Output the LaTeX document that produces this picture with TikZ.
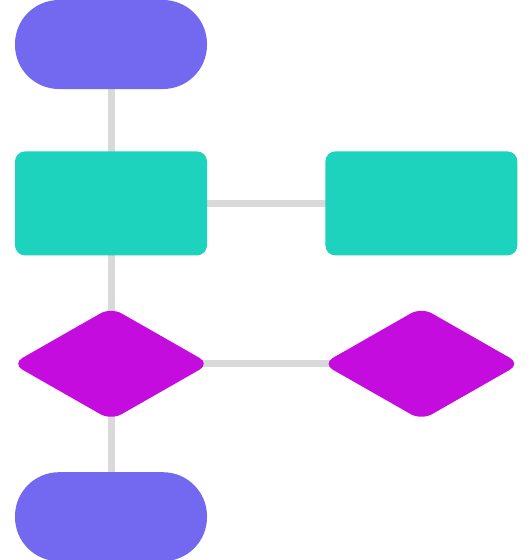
\documentclass[tikz,border=0pt]{standalone}
\usepackage{tikz}
\usetikzlibrary{positioning,shapes.geometric,backgrounds}
\definecolor{lila}{RGB}{115, 105, 240}
\definecolor{turquesa}{RGB}{29, 211, 189}
\definecolor{magenta}{RGB}{197, 12, 222}
\definecolor{gris85}{RGB}{217, 217, 217}

\begin{document}
\begin{tikzpicture}[
    node distance=62pt and 118pt,
    pill/.style={rectangle, fill=lila, rounded corners=44pt,
      minimum width=192pt, minimum height=89pt, inner sep=0pt},
    process/.style={rectangle, fill=turquesa, rounded corners=10pt,
      minimum width=192pt, minimum height=104pt, inner sep=0pt},
    decision/.style={diamond, fill=magenta, rounded corners=12pt,
      minimum width=198pt, minimum height=113pt, inner sep=0pt},
    link/.style={draw=gris85, line width=7pt}
  ]
    \useasboundingbox (0pt,0pt) rectangle (531pt,-560pt);

    \node[pill] (inicio) at (111pt,-44.5pt) {};
    \node[process, below=of inicio] (p1) {};
    \node[process, right=of p1] (p2) {};
    \node[decision, below=51.5pt of p1] (d1) {};
    \node[decision, right=112pt of d1] (d2) {};
    \node[pill, below=51.5pt of d1] (fin) {};

    \begin{scope}[on background layer]
      \draw[link] (inicio.center) -- (p1.center);
      \draw[link] (p1.center) -- (p2.center);
      \draw[link] (p1.center) -- (d1.center);
      \draw[link] (d1.center) -- (d2.center);
      \draw[link] (d1.center) -- (fin.center);
    \end{scope}
  \end{tikzpicture}
\end{document}
